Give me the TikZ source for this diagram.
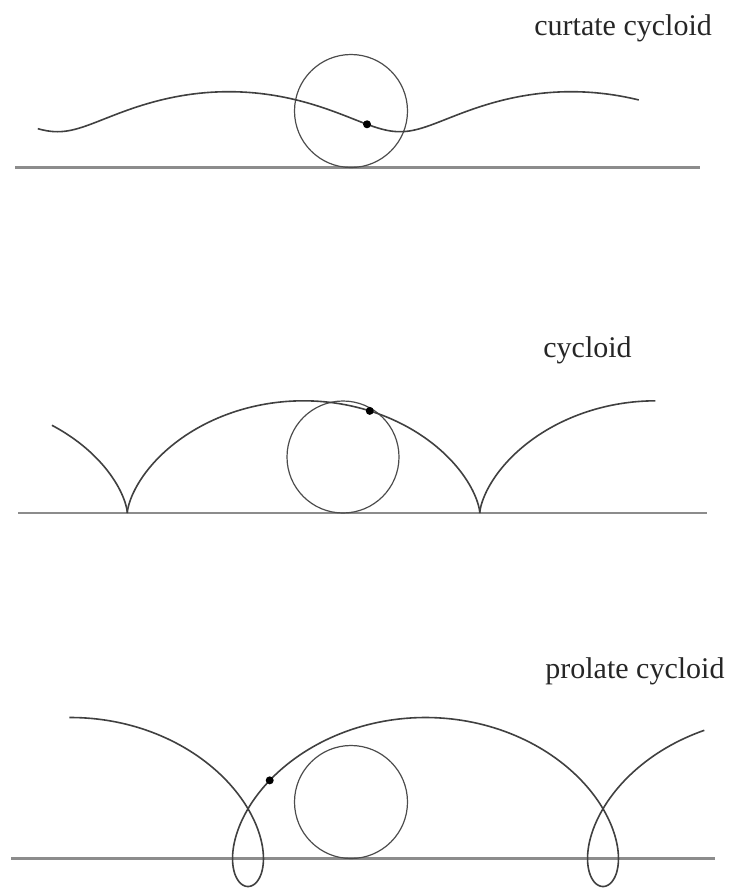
\documentclass[tikz,border=0pt]{standalone}
\usepackage{fontspec}
\setmainfont{Liberation Serif}
\usepackage{tikz}
\tikzset{
  ground/.style={draw=black!45, line width=1.1pt},
  curve/.style={draw=black!75, line width=0.8pt},
  wheel/.style={draw=black!70, line width=0.6pt},
  pt/.style={circle, fill=black, inner sep=0pt, minimum size=4pt},
  lbl/.style={font=\fontsize{15}{18}\selectfont, text=black!85, anchor=base west, inner sep=0pt}
}
\begin{document}
\begin{tikzpicture}[x=0.5pt, y=-0.5pt]
\useasboundingbox (0,0) rectangle (734,889);
% ---------- curtate cycloid ----------
\node[lbl] (curtlab) at (534,35) {curtate cycloid};
\draw[ground] (15,167.5) -- (700,167.5);
\draw[wheel] (351,111) circle[radius=56.5];
\draw[curve] plot[domain=-6.84:4.085, samples=160, variable=\t]
  ({400+54.5*\t-20*sin(\t r)}, {111.7+20*cos(\t r)});
\node[pt] (curtpt) at ({400+54.5*(-0.89)-20*sin(-0.89 r)}, {111.7+20*cos(-0.89 r)}) {};
% ---------- cycloid ----------
\node[lbl] (cyclab) at (543,357) {cycloid};
\draw[ground] (18,513) -- (707,513);
\draw[wheel] (343,457) circle[radius=56];
\draw[curve] plot[domain=-2.17:0, samples=60, variable=\t]
  ({127.3+56.1*(\t-sin(\t r))}, {513-56.1*(1-cos(\t r))});
\draw[curve] plot[domain=0:6.2832, samples=160, variable=\t]
  ({127.3+56.1*(\t-sin(\t r))}, {513-56.1*(1-cos(\t r))});
\draw[curve] plot[domain=6.2832:9.42, samples=80, variable=\t]
  ({127.3+56.1*(\t-sin(\t r))}, {513-56.1*(1-cos(\t r))});
\node[pt] (cycpt) at ({127.3+56.1*(3.75-sin(3.75 r))}, {513-56.1*(1-cos(3.75 r))}) {};
% ---------- prolate cycloid ----------
\node[lbl] (prolab) at (545,678.5) {prolate cycloid};
\draw[ground] (11,858.5) -- (715,858.5);
\draw[wheel] (351,802) circle[radius=56.5];
\draw[curve] plot[domain=-3.15:8.87, samples=300, variable=\t]
  ({248+56.5*\t-84.5*sin(\t r)}, {802+84.5*cos(\t r)});
\node[pt] (propt) at ({248+56.5*1.83-84.5*sin(1.83 r)}, {802+84.5*cos(1.83 r)}) {};
\end{tikzpicture}
\end{document}
